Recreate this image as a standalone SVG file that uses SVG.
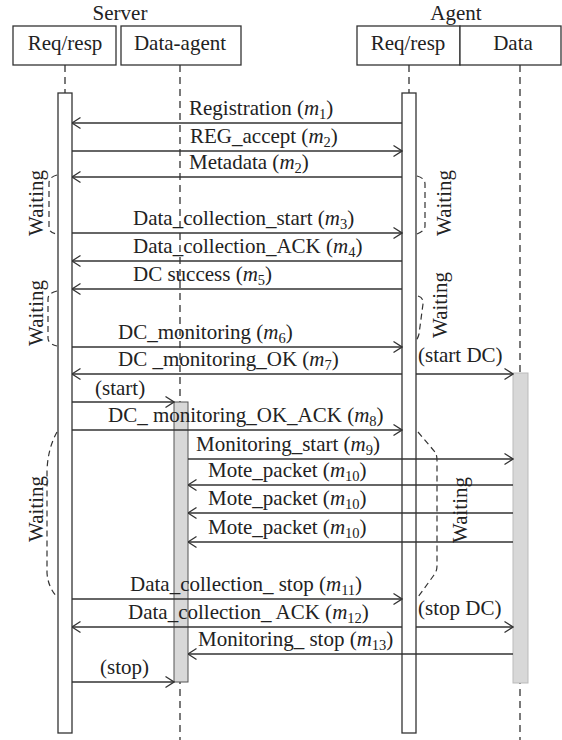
<svg xmlns="http://www.w3.org/2000/svg" width="562" height="740" viewBox="0 0 562 740">
  <style>
    text { font-family: "Liberation Serif", "Times New Roman", serif; font-size: 21px; fill: #222; }
    .box { fill: #fff; stroke: #333; stroke-width: 1.3; }
    .bar { fill: #fff; stroke: #333; stroke-width: 1.3; }
    .gbar { fill: #d8d8d8; stroke: #555; stroke-width: 1; }
    .gbar2 { fill: #d8d8d8; stroke: #bbb; stroke-width: 1; }
    .life { stroke: #333; stroke-width: 1.3; stroke-dasharray: 7 5; fill: none; }
    .msg { stroke: #333; stroke-width: 1.3; fill: none; marker-end: url(#ah); }
    .brace { stroke: #333; stroke-width: 1.2; stroke-dasharray: 6 4; fill: none; }
    .i { font-style: italic; }
    .sub { font-size: 14.5px; }
  </style>
  <defs>
    <marker id="ah" viewBox="0 0 10 14" refX="9.5" refY="7" markerWidth="10" markerHeight="14" markerUnits="userSpaceOnUse" orient="auto">
      <path d="M1,1.5 L9.5,7 L1,12.5" fill="none" stroke="#333" stroke-width="1.3"/>
    </marker>
  </defs>

  <!-- group titles -->
  <text x="120" y="20" text-anchor="middle">Server</text>
  <text x="456" y="20" text-anchor="middle">Agent</text>

  <!-- lifelines -->
  <g id="lifelines">
    <line class="life" x1="65" y1="65" x2="65" y2="93"/>
    <line class="life" x1="180" y1="65" x2="180" y2="740"/>
    <line class="life" x1="409" y1="65" x2="409" y2="93"/>
    <line class="life" x1="520" y1="65" x2="520" y2="740"/>
  </g>

  <!-- participants -->
  <g id="server-reqresp">
    <rect class="box" x="13" y="26" width="103" height="39"/>
    <text x="65" y="50" text-anchor="middle">Req/resp</text>
    <rect class="bar" x="58" y="93" width="14" height="640"/>
  </g>
  <g id="server-dataagent">
    <rect class="box" x="121" y="26" width="120" height="39"/>
    <text x="180" y="50" text-anchor="middle">Data-agent</text>
    <rect class="gbar" x="174" y="402" width="14" height="280"/>
  </g>
  <g id="agent-reqresp">
    <rect class="box" x="357" y="26" width="103" height="39"/>
    <text x="408" y="50" text-anchor="middle">Req/resp</text>
    <rect class="bar" x="402" y="93" width="14" height="640"/>
  </g>
  <g id="agent-data">
    <rect class="box" x="460" y="26" width="101" height="39"/>
    <text x="513" y="50" text-anchor="middle">Data</text>
    <rect class="gbar2" x="513" y="373" width="15" height="310"/>
  </g>

  <!-- messages -->
  <g id="connectors">
    <line class="msg" x1="402" y1="123" x2="72" y2="123"/>
    <line class="msg" x1="72" y1="151" x2="402" y2="151"/>
    <line class="msg" x1="402" y1="177" x2="72" y2="177"/>
    <line class="msg" x1="72" y1="233" x2="402" y2="233"/>
    <line class="msg" x1="402" y1="261" x2="72" y2="261"/>
    <line class="msg" x1="402" y1="289" x2="72" y2="289"/>
    <line class="msg" x1="72" y1="347" x2="402" y2="347"/>
    <line class="msg" x1="402" y1="374" x2="72" y2="374"/>
    <line class="msg" x1="416" y1="374" x2="513" y2="374"/>
    <line class="msg" x1="72" y1="402" x2="174" y2="402"/>
    <line class="msg" x1="72" y1="430" x2="402" y2="430"/>
    <line class="msg" x1="188" y1="459" x2="513" y2="459"/>
    <line class="msg" x1="513" y1="485" x2="188" y2="485"/>
    <line class="msg" x1="513" y1="513" x2="188" y2="513"/>
    <line class="msg" x1="513" y1="542" x2="188" y2="542"/>
    <line class="msg" x1="72" y1="599" x2="402" y2="599"/>
    <line class="msg" x1="402" y1="627" x2="72" y2="627"/>
    <line class="msg" x1="416" y1="627" x2="513" y2="627"/>
    <line class="msg" x1="513" y1="654" x2="188" y2="654"/>
    <line class="msg" x1="72" y1="682" x2="174" y2="682"/>
  </g>

  <!-- message labels -->
  <g id="labels">
    <text x="189" y="115">Registration (<tspan class="i">m</tspan><tspan class="sub" dy="4">1</tspan><tspan dy="-4">)</tspan></text>
    <text x="190" y="143">REG_accept (<tspan class="i">m</tspan><tspan class="sub" dy="4">2</tspan><tspan dy="-4">)</tspan></text>
    <text x="189" y="169">Metadata (<tspan class="i">m</tspan><tspan class="sub" dy="4">2</tspan><tspan dy="-4">)</tspan></text>
    <text x="133" y="225">Data_collection_start (<tspan class="i">m</tspan><tspan class="sub" dy="4">3</tspan><tspan dy="-4">)</tspan></text>
    <text x="133" y="253">Data_collection_ACK (<tspan class="i">m</tspan><tspan class="sub" dy="4">4</tspan><tspan dy="-4">)</tspan></text>
    <text x="133" y="281">DC success (<tspan class="i">m</tspan><tspan class="sub" dy="4">5</tspan><tspan dy="-4">)</tspan></text>
    <text x="118" y="339">DC_monitoring (<tspan class="i">m</tspan><tspan class="sub" dy="4">6</tspan><tspan dy="-4">)</tspan></text>
    <text x="118" y="366">DC _monitoring_OK (<tspan class="i">m</tspan><tspan class="sub" dy="4">7</tspan><tspan dy="-4">)</tspan></text>
    <text x="418" y="362">(start DC)</text>
    <text x="95" y="395">(start)</text>
    <text x="108" y="422">DC_ monitoring_OK_ACK (<tspan class="i">m</tspan><tspan class="sub" dy="4">8</tspan><tspan dy="-4">)</tspan></text>
    <text x="196" y="451">Monitoring_start (<tspan class="i">m</tspan><tspan class="sub" dy="4">9</tspan><tspan dy="-4">)</tspan></text>
    <text x="208" y="477">Mote_packet (<tspan class="i">m</tspan><tspan class="sub" dy="4">10</tspan><tspan dy="-4">)</tspan></text>
    <text x="208" y="505">Mote_packet (<tspan class="i">m</tspan><tspan class="sub" dy="4">10</tspan><tspan dy="-4">)</tspan></text>
    <text x="208" y="534">Mote_packet (<tspan class="i">m</tspan><tspan class="sub" dy="4">10</tspan><tspan dy="-4">)</tspan></text>
    <text x="130" y="591">Data_collection_ stop (<tspan class="i">m</tspan><tspan class="sub" dy="4">11</tspan><tspan dy="-4">)</tspan></text>
    <text x="128" y="619">Data_collection_ ACK (<tspan class="i">m</tspan><tspan class="sub" dy="4">12</tspan><tspan dy="-4">)</tspan></text>
    <text x="418" y="615">(stop DC)</text>
    <text x="198" y="646">Monitoring_ stop (<tspan class="i">m</tspan><tspan class="sub" dy="4">13</tspan><tspan dy="-4">)</tspan></text>
    <text x="100" y="674">(stop)</text>
  </g>

  <!-- waiting periods -->
  <g id="waiting-server-1">
    <path class="brace" d="M57,175 Q49,177 49,183 L49,227 Q49,233 57,234"/>
    <text transform="translate(43,203) rotate(-90)" text-anchor="middle">Waiting</text>
  </g>
  <g id="waiting-server-2">
    <path class="brace" d="M57,291 Q48,293 48,299 L48,338 Q48,344 57,346"/>
    <text transform="translate(43,313) rotate(-90)" text-anchor="middle">Waiting</text>
  </g>
  <g id="waiting-server-3">
    <path class="brace" d="M57,432 Q48,448 47,470 L47,573 Q48,587 57,597"/>
    <text transform="translate(43,509) rotate(-90)" text-anchor="middle">Waiting</text>
  </g>
  <g id="waiting-agent-1">
    <path class="brace" d="M417,176 Q425,178 425,184 L425,226 Q425,231 417,234"/>
    <text transform="translate(451,203) rotate(-90)" text-anchor="middle">Waiting</text>
  </g>
  <g id="waiting-agent-2">
    <path class="brace" d="M418,296 Q424,298 423,304 L419,334 Q418,338 416,341"/>
    <text transform="translate(447,305) rotate(-90)" text-anchor="middle">Waiting</text>
  </g>
  <g id="waiting-agent-3">
    <path class="brace" d="M418,432 L435,452 Q437,455 437,460 L437,566 Q437,571 434,575 L418,597"/>
    <text transform="translate(467,510) rotate(-90)" text-anchor="middle">Waiting</text>
  </g>
</svg>
